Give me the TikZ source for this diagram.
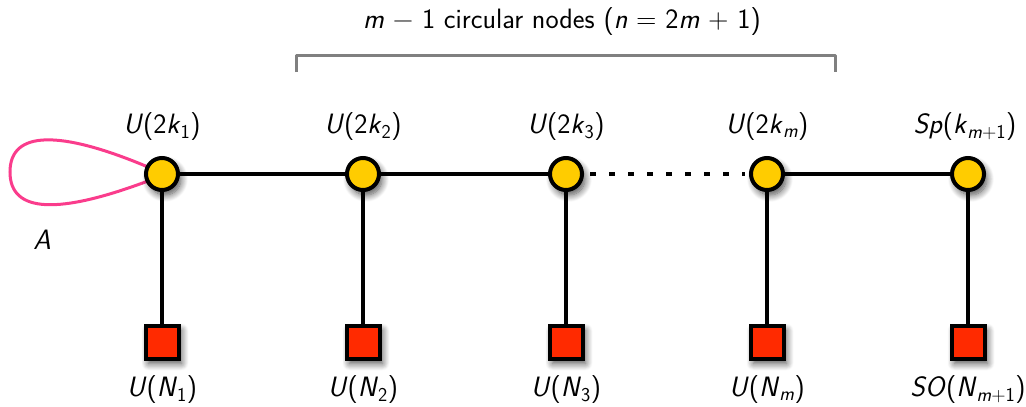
\documentclass[tikz,border=0pt]{standalone}
\usepackage{fontspec}
\usetikzlibrary{shadows.blur}
\definecolor{gold}{RGB}{255,204,0}
\definecolor{sqred}{RGB}{255,42,0}
\definecolor{loopink}{RGB}{250,60,140}
\definecolor{brk}{RGB}{128,128,128}
\newcommand{\vv}[1]{\textit{#1}}
\newcommand{\sbs}[1]{\textsubscript{#1}}
\begin{document}
\begin{tikzpicture}[x=1pt,y=-1pt,
  gnode/.style={circle,draw=black,fill=gold,line width=4pt,minimum size=32pt,inner sep=0pt,
    blur shadow={shadow xshift=3pt,shadow yshift=-5pt,shadow blur radius=7pt,shadow blur steps=10,shadow opacity=70}},
  fnode/.style={rectangle,draw=black,fill=sqred,line width=4pt,minimum size=33pt,inner sep=0pt,
    blur shadow={shadow xshift=3pt,shadow yshift=-5pt,shadow blur radius=7pt,shadow blur steps=10,shadow opacity=70}},
  lbl/.style={font=\fontsize{28}{32}\selectfont\sffamily,inner sep=0pt},
  edge/.style={line width=3.5pt,black}]
\useasboundingbox (0,0) rectangle (1026,407);
% nodes
\foreach \i/\x in {1/162,2/363,3/566,4/767,5/968}{
  \node[fnode] (f\i) at (\x,342) {};
}
\foreach \i/\x in {1/162,2/363,3/566,4/767,5/968}{
  \draw[edge] (\x,174) -- (f\i.north);
}
\draw[line width=3pt,loopink] (148,167) .. controls (60,130) and (10,130) .. (10,172)
  .. controls (10,214) and (60,214) .. (148,181);
\draw[edge] (162,174) -- (363,174);
\draw[edge] (363,174) -- (566,174);
\draw[edge,dash pattern=on 6pt off 13pt] (590,174) -- (745,174);
\draw[edge] (767,174) -- (968,174);
\foreach \i/\x in {1/162,2/363,3/566,4/767,5/968}{
  \node[gnode] (g\i) at (\x,174) {};
}
% labels above
\node[lbl] (lg1) at (162,127) {\vv{U}(2\vv{k}\sbs{1})};
\node[lbl] (lg2) at (363,127) {\vv{U}(2\vv{k}\sbs{2})};
\node[lbl] (lg3) at (566,127) {\vv{U}(2\vv{k}\sbs{3})};
\node[lbl] (lg4) at (767,127) {\vv{U}(2\vv{k}\sbs{\vv{m}})};
\node[lbl] (lg5) at (965,127) {\vv{Sp}(\vv{k}\sbs{\vv{m}+1})};
% labels below
\node[lbl] (lf1) at (162,390) {\vv{U}(\vv{N}\sbs{1})};
\node[lbl] (lf2) at (363,390) {\vv{U}(\vv{N}\sbs{2})};
\node[lbl] (lf3) at (566,390) {\vv{U}(\vv{N}\sbs{3})};
\node[lbl] (lf4) at (767,390) {\vv{U}(\vv{N}\sbs{\vv{m}})};
\node[lbl] (lf5) at (968,390) {\vv{SO}(\vv{N}\sbs{\vv{m}+1})};
\node[lbl] (la) at (42,240) {\vv{A}};
% bracket
\draw[brk,line width=3pt,line join=round] (296,72) -- (296,55) -- (835,55) -- (835,72);
\node[lbl] (title) at (562,22) {\vv{m} − 1 circular nodes (\vv{n} = 2\vv{m} + 1)};
\end{tikzpicture}
\end{document}
